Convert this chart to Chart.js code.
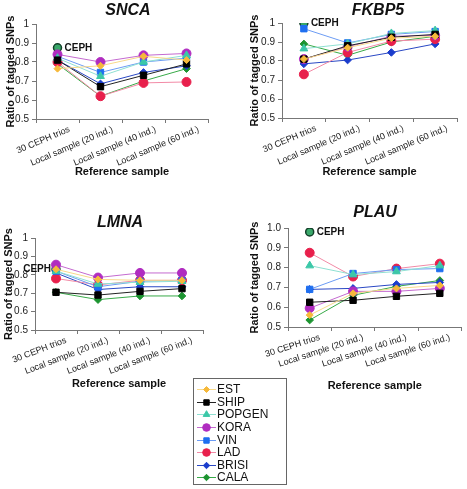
<!DOCTYPE html>
<html>
<head>
<meta charset="utf-8">
<script src="https://cdn.jsdelivr.net/npm/chart.js@4.4.0/dist/chart.umd.min.js"></script>
<style>
body { margin: 0; background: #fff; width: 467px; height: 489px; position: relative; overflow: hidden; font-family: "Liberation Sans", Arial, sans-serif; }
canvas.panel { position: absolute; }
#legend { position: absolute; left: 193px; top: 378px; width: 94px; height: 107px; border: 1px solid #666; box-sizing: border-box; padding: 4px 0 0 3px; }
#legend .row { height: 12.6px; display: flex; align-items: center; font-size: 12px; color: #111; }
#legend canvas { margin-right: 1px; }
</style>
</head>
<body>
<canvas id="snca" class="panel"></canvas>
<canvas id="fkbp5" class="panel"></canvas>
<canvas id="lmna" class="panel"></canvas>
<canvas id="plau" class="panel"></canvas>
<div id="legend"></div>
<script>
const categories = ["30 CEPH trios", "Local sample (20 ind.)", "Local sample (40 ind.)", "Local sample (60 ind.)"];
const seriesNames = ["EST", "SHIP", "POPGEN", "KORA", "VIN", "LAD", "BRISI", "CALA"];

// rows follow seriesNames order
const sncaValues = [
  [0.765, 0.78, 0.83, 0.81],
  [0.81, 0.67, 0.73, 0.79],
  [0.82, 0.725, 0.80, 0.835],
  [0.84, 0.80, 0.835, 0.845],
  [0.83, 0.745, 0.80, 0.82],
  [0.80, 0.62, 0.69, 0.695],
  [0.81, 0.685, 0.745, 0.78],
  [0.79, 0.62, 0.70, 0.765]
];
const fkbp5Values = [
  [0.81, 0.87, 0.92, 0.93],
  [0.81, 0.88, 0.925, 0.94],
  [0.865, 0.89, 0.945, 0.96],
  [0.81, 0.875, 0.93, 0.935],
  [0.97, 0.895, 0.94, 0.955],
  [0.73, 0.845, 0.905, 0.915],
  [0.785, 0.805, 0.845, 0.89],
  [0.89, 0.83, 0.90, 0.93]
];
const lmnaValues = [
  [0.83, 0.775, 0.77, 0.77],
  [0.705, 0.69, 0.71, 0.725],
  [0.82, 0.75, 0.76, 0.765],
  [0.855, 0.785, 0.81, 0.81],
  [0.82, 0.735, 0.765, 0.77],
  [0.78, 0.745, 0.77, 0.77],
  [0.81, 0.72, 0.735, 0.735],
  [0.705, 0.665, 0.685, 0.685]
];
const plauValues = [
  [0.56, 0.67, 0.695, 0.71],
  [0.625, 0.635, 0.655, 0.67],
  [0.81, 0.765, 0.78, 0.81],
  [0.595, 0.68, 0.68, 0.695],
  [0.69, 0.77, 0.79, 0.795],
  [0.875, 0.755, 0.795, 0.82],
  [0.69, 0.695, 0.715, 0.725],
  [0.535, 0.66, 0.705, 0.735]
];
// CEPH reference point (first category only)
const cephSNCA = 0.875;
const cephFKBP5 = 1.0;
const cephLMNA = 0.83;
const cephPLAU = 0.98;

const markerColors = ["#f6b93b", "#000000", "#3cc8a8", "#b02cc0", "#1f6ff0", "#e8204c", "#1a3ccc", "#1c9430"];
const lineColors = ["#f8d98a", "#222222", "#8fe0d2", "#c46ad0", "#6c9cf4", "#f28aa6", "#2a48c4", "#38aa48"];
const pointShapes = ["rectRot", "rect", "triangle", "circle", "rect", "circle", "rectRot", "rectRot"];
const pointSizes = [3.5, 4.5, 4.5, 4.5, 4.5, 4.5, 3.8, 3.8];

const FONT = "'Liberation Sans', Arial, sans-serif";

const panelPlugin = {
  id: "panelDeco",
  afterDraw(chart, args, opts) {
    const ctx = chart.ctx;
    ctx.save();
    ctx.fillStyle = "#111";
    ctx.font = "italic bold 16px " + FONT;
    ctx.textAlign = "center";
    ctx.textBaseline = "middle";
    ctx.fillText(opts.title, opts.titleX, opts.titleY);
    const meta = chart.getDatasetMeta(chart.data.datasets.length - 1);
    const pt = meta.data[0];
    ctx.font = "bold 10px " + FONT;
    if (opts.cephLeft) {
      ctx.textAlign = "right";
      ctx.fillText("CEPH", pt.x - 5, pt.y);
    } else {
      ctx.textAlign = "left";
      ctx.fillText("CEPH", pt.x + 7, pt.y);
    }
    ctx.restore();
  }
};

function makePanel(id, values, ceph, p) {
  const cv = document.getElementById(id);
  cv.style.left = p.x + "px";
  cv.style.top = p.y + "px";
  cv.width = p.w;
  cv.height = p.h;
  cv.style.width = p.w + "px";
  cv.style.height = p.h + "px";

  const datasets = seriesNames.map((name, i) => ({
    label: name,
    data: values[i],
    borderColor: lineColors[i],
    backgroundColor: markerColors[i],
    pointBackgroundColor: markerColors[i],
    pointBorderColor: markerColors[i],
    pointStyle: pointShapes[i],
    pointRadius: pointSizes[i],
    borderWidth: 1,
    pointBorderWidth: 1,
    tension: 0
  }));
  datasets.push({
    label: "CEPH",
    data: [ceph, null, null, null],
    showLine: false,
    pointStyle: "circle",
    pointRadius: 4,
    pointBackgroundColor: "#3aa86a",
    pointBorderColor: "#14402a",
    pointBorderWidth: 1.5
  });

  const areaL = p.area[0] - p.x, areaT = p.area[1] - p.y, areaR = p.area[2] - p.x, areaB = p.area[3] - p.y;

  return new Chart(cv, {
    type: "line",
    data: { labels: categories, datasets: datasets },
    options: {
      responsive: false,
      animation: false,
      events: [],
      layout: { padding: { top: areaT, right: p.w - areaR, left: 0, bottom: 0 } },
      plugins: {
        legend: { display: false },
        tooltip: { enabled: false },
        panelDeco: { title: p.title, titleX: p.titleX - p.x, titleY: p.titleY - p.y, cephLeft: p.cephLeft }
      },
      scales: {
        x: {
          offset: true,
          grid: { display: true, offset: true, drawOnChartArea: false, drawTicks: true, tickLength: 4, color: "#777" },
          border: { color: "#777", width: 1 },
          ticks: { font: { family: FONT, size: 9 }, color: "#222", minRotation: p.rot, maxRotation: p.rot, padding: 1, labelOffset: p.labelOff, autoSkip: false },
          title: { display: true, text: "Reference sample", font: { family: FONT, size: 11, weight: "bold" }, color: "#111", padding: { top: 0, bottom: p.xTitlePad } },
          afterFit(scale) {
            scale.height = p.h - areaB;
            scale.paddingLeft = 0;
            scale.paddingRight = 0;
          }
        },
        y: {
          min: 0.5,
          max: 1,
          grid: { display: true, drawOnChartArea: false, drawTicks: true, tickLength: 4, color: "#777" },
          border: { color: "#777", width: 1 },
          ticks: {
            stepSize: 0.1,
            font: { family: FONT, size: 10 },
            color: "#222",
            padding: 3,
            callback: (v) => p.oneDecimal ? v.toFixed(1) : (Math.abs(v - 1) < 1e-9 ? "1" : v.toFixed(1))
          },
          title: { display: true, text: "Ratio of tagged SNPs", font: { family: FONT, size: 11, weight: "bold" }, color: "#111", padding: { top: p.yTitlePad, bottom: 0 } },
          afterFit(scale) {
            scale.width = areaL;
            scale.paddingTop = 0;
            scale.paddingBottom = 0;
          }
        }
      }
    },
    plugins: [panelPlugin]
  });
}

makePanel("snca", sncaValues, cephSNCA, {
  x: 0, y: 0, w: 233, h: 185, area: [36, 24, 208, 119],
  title: "SNCA", titleX: 128, titleY: 11, rot: 23, labelOff: 12, xTitlePad: 6, yTitlePad: 4
});
makePanel("fkbp5", fkbp5Values, cephFKBP5, {
  x: 234, y: 0, w: 233, h: 185, area: [282, 23, 457, 118],
  title: "FKBP5", titleX: 378, titleY: 11, rot: 23, labelOff: 12, xTitlePad: 6, yTitlePad: 14
});
makePanel("lmna", lmnaValues, cephLMNA, {
  x: 0, y: 200, w: 234, h: 200, area: [35, 238, 203, 330],
  title: "LMNA", titleX: 120, titleY: 223, rot: 21, labelOff: 10, xTitlePad: 9, yTitlePad: 2, cephLeft: true
});
makePanel("plau", plauValues, cephPLAU, {
  x: 234, y: 200, w: 233, h: 200, area: [288, 228, 464, 327],
  title: "PLAU", titleX: 375, titleY: 213, rot: 18, labelOff: 10, xTitlePad: 7, yTitlePad: 14, oneDecimal: true
});

// legend
const legend = document.getElementById("legend");
seriesNames.forEach((name, i) => {
  const row = document.createElement("div");
  row.className = "row";
  const icon = document.createElement("canvas");
  icon.width = 19; icon.height = 12;
  const c = icon.getContext("2d");
  c.strokeStyle = lineColors[i];
  c.lineWidth = 1;
  c.beginPath(); c.moveTo(0, 6.5); c.lineTo(19, 6.5); c.stroke();
  c.fillStyle = markerColors[i];
  c.strokeStyle = markerColors[i];
  Chart.helpers.drawPoint(c, { pointStyle: pointShapes[i], radius: pointSizes[i] * 0.85, borderWidth: 1 }, 9.5, 6.5);
  row.appendChild(icon);
  const t = document.createElement("span");
  t.textContent = name;
  row.appendChild(t);
  legend.appendChild(row);
});
</script>
</body>
</html>
